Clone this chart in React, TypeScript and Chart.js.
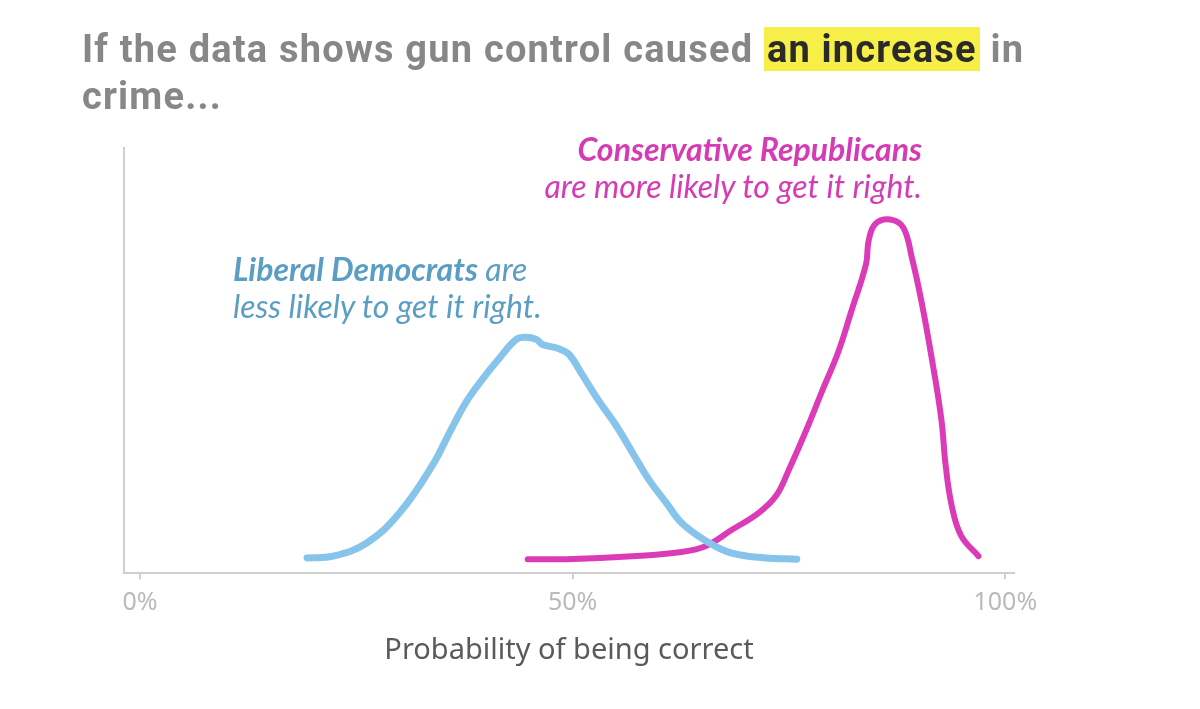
import React, { useEffect, useRef } from "react";
import { Chart, registerables } from "chart.js";

Chart.register(...registerables);

const demX = [19.3, 22.3, 26.2, 30.0, 33.8, 35.8, 37.7, 39.6, 41.5, 43.5, 44.6, 45.8, 46.5, 48.4, 49.6, 51.1, 53.1, 55.0, 56.9, 58.8, 60.8, 62.6, 65.4, 68.4, 72.3, 75.9];
const demY = [3.6, 4.0, 7.1, 14.2, 25.4, 33.2, 40.3, 45.7, 50.5, 55.0, 55.5, 55.0, 53.8, 52.8, 51.4, 46.7, 40.3, 34.8, 28.4, 22.0, 16.6, 11.8, 7.6, 4.7, 3.6, 3.3];

const repX = [44.8, 49.3, 56.9, 62.6, 65.4, 68.4, 71.5, 73.5, 75.0, 76.9, 78.8, 80.7, 82.2, 83.9, 84.2, 85.0, 86.7, 88.2, 89.2, 90.3, 91.5, 92.6, 93.1, 93.8, 94.9, 96.9];
const repY = [3.3, 3.3, 4.0, 5.0, 6.4, 10.2, 14.2, 18.2, 24.4, 33.2, 42.7, 52.1, 61.6, 72.7, 78.2, 82.2, 83.2, 81.3, 74.2, 64.0, 50.5, 36.3, 25.4, 15.9, 8.8, 4.0];

const tickValues = [0, 50, 100];
const tickLabels = ["0%", "50%", "100%"];
const xAxisTitle = "Probability of being correct";

const BLUE_LINE = "#86c4ec";
const PINK_LINE = "#dc3bb7";
const BLUE_TEXT = "#5b9ec4";
const PINK_TEXT = "#d53bb4";

export default function App() {
  const ref = useRef<HTMLCanvasElement | null>(null);

  useEffect(() => {
    const ctx = ref.current!.getContext("2d")!;
    const chart = new Chart(ctx, {
      type: "line",
      data: {
        datasets: [
          {
            label: "Liberal Democrats",
            data: demX.map((x, i) => ({ x, y: demY[i] })),
            borderColor: BLUE_LINE,
            borderWidth: 7,
            pointRadius: 0,
            tension: 0.4,
            borderCapStyle: "round",
            borderJoinStyle: "round",
            fill: false,
          },
          {
            label: "Conservative Republicans",
            data: repX.map((x, i) => ({ x, y: repY[i] })),
            borderColor: PINK_LINE,
            borderWidth: 6,
            pointRadius: 0,
            tension: 0.4,
            borderCapStyle: "round",
            borderJoinStyle: "round",
            fill: false,
          },
        ],
      },
      options: {
        animation: false,
        responsive: false,
        layout: { padding: { left: 116, right: 186, top: 148, bottom: 41 } },
        plugins: { legend: { display: false }, tooltip: { enabled: false } },
        scales: {
          x: {
            type: "linear",
            min: -1.85,
            max: 101.0,
            afterBuildTicks: (axis: any) => {
              axis.ticks = tickValues.map((v) => ({ value: v }));
            },
            ticks: {
              callback: (v: any) => tickLabels[tickValues.indexOf(Number(v))] ?? "",
              color: "#bababa",
              font: { family: "'Noto Sans', sans-serif", size: 25, weight: "normal" },
              padding: 9,
              maxRotation: 0,
            },
            grid: {
              display: true,
              drawOnChartArea: false,
              drawTicks: true,
              tickLength: 6,
              color: "#cfcfcf",
              lineWidth: 2,
            },
            border: { display: true, color: "#cfcfcf", width: 2 },
            title: {
              display: true,
              text: xAxisTitle,
              color: "#5a5a5a",
              font: { family: "'Noto Sans', sans-serif", size: 29 },
              padding: { top: 6, bottom: 0 },
            },
          },
          y: {
            type: "linear",
            min: 0,
            max: 100,
            ticks: { display: false },
            grid: { display: false },
            border: { display: true, color: "#cfcfcf", width: 2 },
          },
        },
      },
    });
    return () => chart.destroy();
  }, []);

  return (
    <div style={{ position: "fixed", left: 0, top: 0, width: 1200, height: 709, background: "#fff" }}>
      <canvas ref={ref} width={1200} height={709} style={{ position: "absolute", left: 0, top: 0 }} />
      <div
        style={{
          position: "absolute",
          left: 82,
          top: 26,
          width: 1100,
          fontFamily: "Roboto, sans-serif",
          fontWeight: 700,
          fontSize: 38,
          lineHeight: "47px",
          letterSpacing: "1.2px",
          color: "#878787",
        }}
      >
        If the data shows gun control caused{" "}
        <span style={{ background: "#f5ef47", color: "#2a2a2a", padding: "0 3px" }}>an increase</span> in
        <br />
        crime...
      </div>
      <div
        style={{
          position: "absolute",
          left: 233,
          top: 250,
          fontFamily: "Lato, 'Open Sans', sans-serif",
          fontStyle: "italic",
          fontSize: 32,
          lineHeight: "37px",
          color: BLUE_TEXT,
          whiteSpace: "nowrap",
        }}
      >
        <b>Liberal Democrats</b> are
        <br />
        less likely to get it right.
      </div>
      <div
        style={{
          position: "absolute",
          right: 278,
          top: 130,
          textAlign: "right",
          fontFamily: "Lato, 'Open Sans', sans-serif",
          fontStyle: "italic",
          fontSize: 32,
          lineHeight: "37px",
          color: PINK_TEXT,
          whiteSpace: "nowrap",
        }}
      >
        <b>Conservative Republicans</b>
        <br />
        are more likely to get it right.
      </div>
    </div>
  );
}
